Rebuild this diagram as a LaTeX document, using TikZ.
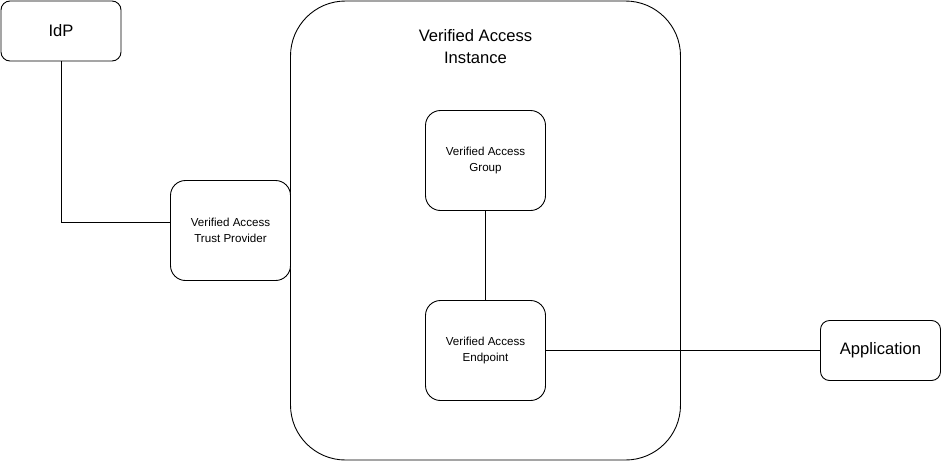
\documentclass[tikz,border=0pt]{standalone}
\usepackage{fontspec}
\setmainfont{Liberation Sans}
\tikzset{
  box/.style={draw, fill=white, line width=0.9pt, rounded corners=#1, align=center, inner sep=0pt},
  box/.default=15pt,
  small/.style={font=\fontsize{11.6}{15.5}\selectfont},
  big/.style={font=\fontsize{16.6}{22}\selectfont},
  wire/.style={line width=0.9pt}
}
\begin{document}
\begin{tikzpicture}[x=1pt, y=-1pt]
  \useasboundingbox (-0.5,-0.5) rectangle (940.5,460.5);
  % instance
  \node[box=55pt, minimum width=390pt, minimum height=459pt] (instance) at (485,230) {};
  \node[big, align=center] (instancetitle) at (475,46) {Verified Access\\Instance};
  % nodes
  \node[box=9pt, big, minimum width=120pt, minimum height=60pt] (idp) at (60.5,30.5) {IdP};
  \node[box, small, minimum width=120pt, minimum height=100pt] (trust) at (230,230) {Verified Access\\Trust Provider};
  \node[box, small, minimum width=120pt, minimum height=100pt] (group) at (485,160) {Verified Access\\Group};
  \node[box, small, minimum width=120pt, minimum height=100pt] (endpoint) at (485,350) {Verified Access\\Endpoint};
  \node[box=9pt, big, minimum width=120pt, minimum height=60pt] (app) at (880,350) {Application};
  % lines
  \draw[wire] (idp.south) |- ([yshift=8pt]trust.west);
  \draw[wire] (group.south) -- (endpoint.north);
  \draw[wire] (endpoint.east) -- (app.west);
\end{tikzpicture}
\end{document}
